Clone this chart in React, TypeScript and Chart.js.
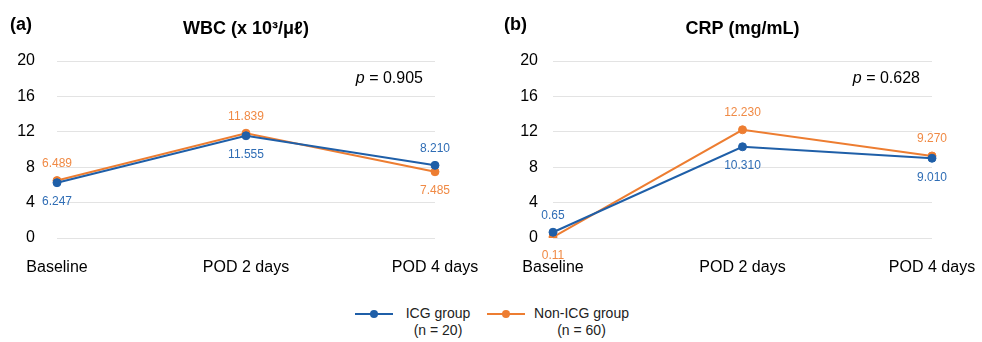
import React, { useEffect, useRef } from "react";
import { Chart, registerables } from "chart.js";

Chart.register(...registerables);

const categories = ["Baseline", "POD 2 days", "POD 4 days"];
const yTicks = [0, 4, 8, 12, 16, 20];

const wbcIcg = [6.247, 11.555, 8.21];
const wbcNonIcg = [6.489, 11.839, 7.485];
const wbcIcgLabels = ["6.247", "11.555", "8.210"];
const wbcNonIcgLabels = ["6.489", "11.839", "7.485"];
const wbcIcgLabelPos = ["below", "below", "above"];
const wbcNonIcgLabelPos = ["above", "above", "below"];

const crpIcg = [0.65, 10.31, 9.01];
const crpNonIcg = [0.11, 12.23, 9.27];
const crpIcgLabels = ["0.65", "10.310", "9.010"];
const crpNonIcgLabels = ["0.11", "12.230", "9.270"];
const crpIcgLabelPos = ["above", "below", "below"];
const crpNonIcgLabelPos = ["below", "above", "above"];

const seriesNames = ["ICG group", "Non-ICG group"];
const seriesNotes = ["(n = 20)", "(n = 60)"];

const BLUE = "#1f5fa8";
const BLUE_LABEL = "#2f6db5";
const ORANGE = "#ed7d31";
const ORANGE_LABEL = "#f08a45";
const FONT = "'Liberation Sans', Arial, Helvetica, sans-serif";

type PanelProps = {
  left: number;
  panelLetter: string;
  letterX: number;
  title: string;
  pValue: string;
  icg: number[];
  nonIcg: number[];
  icgLabels: string[];
  nonIcgLabels: string[];
  icgPos: string[];
  nonIcgPos: string[];
  yAxisWidth: number;
  yTickPad: number;
  rightPad: number;
};

function Panel(props: PanelProps) {
  const ref = useRef<HTMLCanvasElement | null>(null);
  useEffect(() => {
    if (!ref.current) return;
    const labelPlugin = {
      id: "decor",
      afterDatasetsDraw(chart: any) {
        const ctx = chart.ctx;
        ctx.save();
        ctx.font = `12px ${FONT}`;
        ctx.textAlign = "center";
        ctx.textBaseline = "middle";
        chart.data.datasets.forEach((ds: any, di: number) => {
          const meta = chart.getDatasetMeta(di);
          meta.data.forEach((pt: any, i: number) => {
            const pos = ds.labelPos[i];
            const y = pos === "above" ? pt.y - 17 : pt.y + 19;
            ctx.fillStyle = ds.labelColor;
            ctx.fillText(ds.labelTexts[i], pt.x, y);
          });
        });
        ctx.restore();
      },
      afterDraw(chart: any) {
        const ctx = chart.ctx;
        const area = chart.chartArea;
        ctx.save();
        ctx.fillStyle = "#000";
        ctx.textBaseline = "alphabetic";
        ctx.font = `bold 18px ${FONT}`;
        ctx.textAlign = "left";
        ctx.fillText(props.panelLetter, props.letterX, 29.5);
        ctx.textAlign = "center";
        ctx.fillText(props.title, (area.left + area.right) / 2, 33.5);
        ctx.font = `16px ${FONT}`;
        const rest = " = " + props.pValue;
        const restW = ctx.measureText(rest).width;
        ctx.font = `italic 16px ${FONT}`;
        const pW = ctx.measureText("p").width;
        const right = area.right - 12;
        ctx.textAlign = "left";
        ctx.fillText("p", right - restW - pW, 82.7);
        ctx.font = `16px ${FONT}`;
        ctx.fillText(rest, right - restW, 82.7);
        ctx.restore();
      },
    };
    const chart = new Chart(ref.current, {
      type: "line",
      data: {
        labels: categories,
        datasets: [
          {
            label: seriesNames[0],
            data: props.icg,
            borderColor: BLUE,
            backgroundColor: BLUE,
            borderWidth: 2,
            pointRadius: 4,
            pointBorderWidth: 1,
            pointBackgroundColor: BLUE,
            pointBorderColor: BLUE,
            tension: 0,
            labelTexts: props.icgLabels,
            labelPos: props.icgPos,
            labelColor: BLUE_LABEL,
          } as any,
          {
            label: seriesNames[1],
            data: props.nonIcg,
            borderColor: ORANGE,
            backgroundColor: ORANGE,
            borderWidth: 2,
            pointRadius: 4,
            pointBorderWidth: 1,
            pointBackgroundColor: ORANGE,
            pointBorderColor: ORANGE,
            tension: 0,
            labelTexts: props.nonIcgLabels,
            labelPos: props.nonIcgPos,
            labelColor: ORANGE_LABEL,
          } as any,
        ],
      },
      options: {
        animation: false,
        responsive: false,
        maintainAspectRatio: false,
        layout: { padding: { top: 61, right: props.rightPad, bottom: 0, left: 0 } },
        plugins: {
          legend: { display: false },
          tooltip: { enabled: false },
          title: { display: false },
        },
        scales: {
          x: {
            offset: false,
            grid: {
              display: true,
              drawOnChartArea: false,
              drawTicks: true,
              tickLength: 20,
              color: "rgba(0,0,0,0)",
            },
            border: { display: false },
            ticks: {
              color: "#000",
              font: { family: FONT, size: 16 },
              padding: 0,
              maxRotation: 0,
              autoSkip: false,
            },
            afterFit(scale: any) {
              scale.height = 52;
            },
          },
          y: {
            min: 0,
            max: 20,
            afterBuildTicks(scale: any) {
              scale.ticks = yTicks.map((v) => ({ value: v }));
            },
            grid: { color: "#e3e3e3", lineWidth: 1, drawTicks: false },
            border: { display: false },
            ticks: {
              color: "#000",
              font: { family: FONT, size: 16 },
              padding: props.yTickPad,
            },
            afterFit(scale: any) {
              scale.width = props.yAxisWidth;
            },
          },
        },
      },
      plugins: [labelPlugin],
    });
    return () => chart.destroy();
  }, []);
  return (
    <canvas
      ref={ref}
      width={491}
      height={290}
      style={{ position: "absolute", left: props.left, top: 0, width: 491, height: 290 }}
    />
  );
}

function Marker({ left, color }: { left: number; color: string }) {
  return (
    <svg width={38} height={10} style={{ position: "absolute", left, top: 309 }}>
      <line x1={0} y1={5} x2={38} y2={5} stroke={color} strokeWidth={2} />
      <circle cx={19} cy={5} r={4} fill={color} />
    </svg>
  );
}

function LegendText({ center, name, note }: { center: number; name: string; note: string }) {
  return (
    <div
      style={{
        position: "absolute",
        left: center - 70,
        top: 305,
        width: 140,
        textAlign: "center",
        font: `14px ${FONT}`,
        lineHeight: "17px",
        color: "#222",
      }}
    >
      <div>{name}</div>
      <div>{note}</div>
    </div>
  );
}

export default function App() {
  return (
    <div
      style={{
        position: "fixed",
        left: 0,
        top: 0,
        width: 982,
        height: 342,
        background: "#fff",
        overflow: "hidden",
      }}
    >
      <Panel
        left={0}
        panelLetter="(a)"
        letterX={10}
        title="WBC (x 10³/μℓ)"
        pValue="0.905"
        icg={wbcIcg}
        nonIcg={wbcNonIcg}
        icgLabels={wbcIcgLabels}
        nonIcgLabels={wbcNonIcgLabels}
        icgPos={wbcIcgLabelPos}
        nonIcgPos={wbcNonIcgLabelPos}
        yAxisWidth={57}
        yTickPad={22}
        rightPad={56}
      />
      <Panel
        left={491}
        panelLetter="(b)"
        letterX={13}
        title="CRP (mg/mL)"
        pValue="0.628"
        icg={crpIcg}
        nonIcg={crpNonIcg}
        icgLabels={crpIcgLabels}
        nonIcgLabels={crpNonIcgLabels}
        icgPos={crpIcgLabelPos}
        nonIcgPos={crpNonIcgLabelPos}
        yAxisWidth={62}
        yTickPad={15}
        rightPad={50}
      />
      <Marker left={355} color={BLUE} />
      <LegendText center={438} name={seriesNames[0]} note={seriesNotes[0]} />
      <Marker left={487} color={ORANGE} />
      <LegendText center={581.5} name={seriesNames[1]} note={seriesNotes[1]} />
    </div>
  );
}
